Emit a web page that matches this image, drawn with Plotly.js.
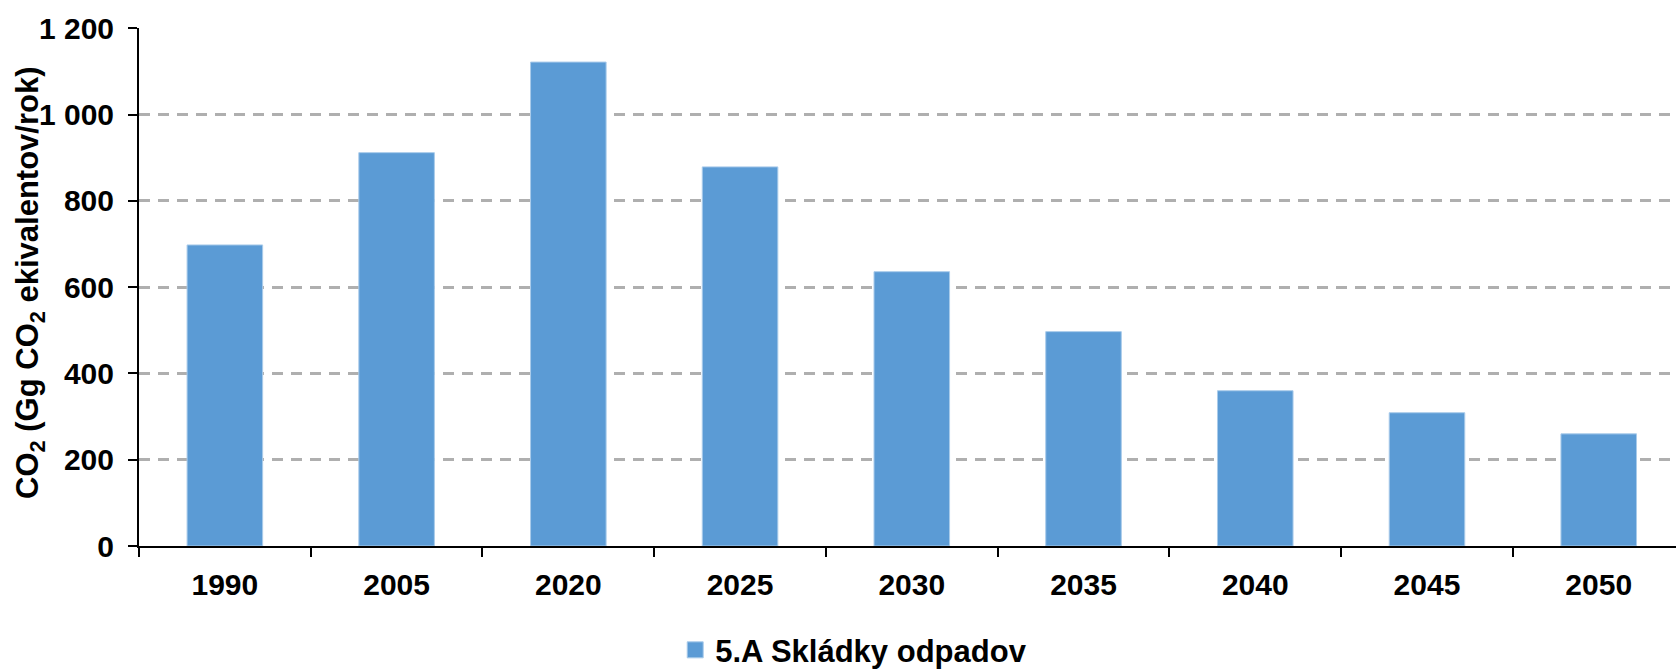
<!DOCTYPE html>
<html>
<head>
<meta charset="utf-8">
<script src="https://cdn.plot.ly/plotly-3.0.1.min.js"></script>
<style>
  html, body { margin: 0; padding: 0; background: #fff; }
  #chart { width: 1676px; height: 671px; }
</style>
</head>
<body>
<div id="chart"></div>
<script>
// years and landfill emissions (Gg CO2 eq / year)
const years = ['1990', '2005', '2020', '2025', '2030', '2035', '2040', '2045', '2050'];
const landfill = [698, 912, 1122, 879, 636, 497, 360, 309, 260];
const series_name = '5.A Skládky odpadov';
const y_title = 'CO<sub>2</sub> (Gg CO<sub>2</sub> ekivalentov/rok)';

const font_family = '"Liberation Sans", Arial, sans-serif';

const data = [{
    type: 'bar',
    x: years,
    y: landfill,
    name: series_name,
    width: 0.44,
    marker: {
        color: '#5B9BD5',
        line: { color: '#A9CBEA', width: 1 }
    },
    showlegend: true
}];

const layout = {
    width: 1676,
    height: 671,
    margin: { l: 139, r: 0, t: 28, b: 125 },
    paper_bgcolor: '#fff',
    plot_bgcolor: '#fff',
    font: { family: font_family, color: '#000' },
    separators: ', ',
    xaxis: {
        type: 'category',
        range: [-0.5, 8.45],
        showline: true,
        linecolor: '#000',
        linewidth: 2,
        ticks: 'outside',
        tickson: 'boundaries',
        ticklen: 9,
        tickwidth: 2,
        tickcolor: '#000',
        showgrid: false,
        tickfont: { size: 30, family: font_family, weight: 'bold' },
        ticklabelstandoff: 11
    },
    yaxis: {
        range: [0, 1201],
        dtick: 200,
        separatethousands: true,
        showline: true,
        linecolor: '#000',
        linewidth: 2,
        ticks: 'outside',
        ticklen: 9,
        tickwidth: 2,
        tickcolor: '#000',
        gridcolor: '#afafaf',
        gridwidth: 3,
        griddash: '11px,8px',
        zeroline: false,
        tickfont: { size: 30, family: font_family, weight: 'bold' },
        ticklabelstandoff: 8
    },
    // axis title as annotation so it can sit close to the tick labels
    annotations: [{
        xref: 'paper',
        yref: 'paper',
        x: -0.0709,
        y: 0.508,
        xanchor: 'center',
        yanchor: 'middle',
        textangle: -90,
        showarrow: false,
        text: y_title,
        font: { size: 31, family: font_family, weight: 'bold', color: '#000' }
    }],
    // legend placed in container coords so it does not push the margins
    legend: {
        orientation: 'h',
        xref: 'paper',
        yref: 'container',
        x: 0.465,
        xanchor: 'center',
        y: 0.031,
        yanchor: 'middle',
        font: { size: 31, family: font_family, weight: 'bold' },
        itemwidth: 30
    }
};

Plotly.newPlot('chart', data, layout, { displayModeBar: false, staticPlot: true })
    .then(gd => {
        // slightly bigger legend swatch, like the original
        gd.querySelectorAll('.legend .legendpoints path').forEach(p => {
            p.setAttribute('d', 'M8,8H-8V-8H8Z');
        });
    });
</script>
</body>
</html>
